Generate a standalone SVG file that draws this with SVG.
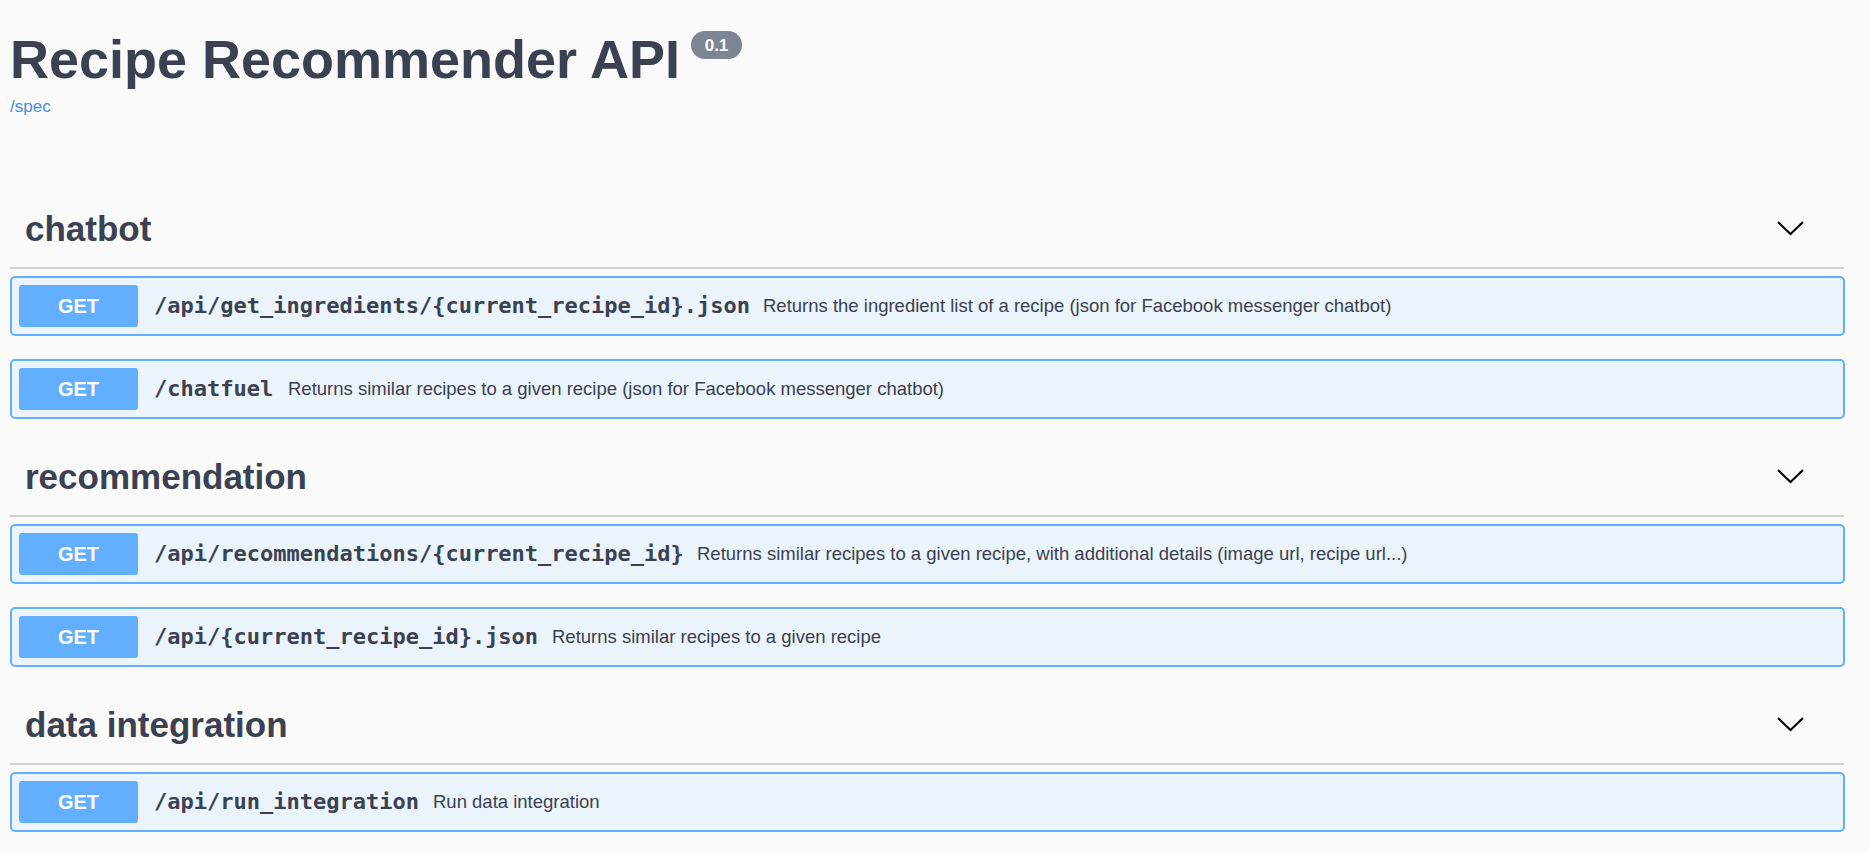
<svg xmlns="http://www.w3.org/2000/svg" width="1869" height="852" viewBox="0 0 1869 852">
<style>
.t{font-family:"Liberation Sans",Arial,sans-serif;fill:#3b4151}
.h{font-family:"Liberation Sans",Arial,sans-serif;font-weight:bold;font-size:35px;fill:#3b4151}
.box{fill:#ebf3fb;stroke:#61affe;stroke-width:2}
.btn{fill:#61affe}
.get{font-family:"Liberation Sans",Arial,sans-serif;font-weight:bold;font-size:20px;fill:#fff}
.p{font-family:"DejaVu Sans Mono","Liberation Mono",monospace;font-weight:bold;font-size:22px;fill:#3b4151}
.d{font-family:"Liberation Sans",Arial,sans-serif;font-size:18.5px;fill:#3b4151}
.sep{stroke:#d0d0d0;stroke-width:2}
.chev{fill:none;stroke:#000;stroke-width:2}
</style>
<rect width="1869" height="852" fill="#fafafa"/>
<g id="header">
<text class="t" x="10" y="78" font-size="54" font-weight="bold" textLength="670" lengthAdjust="spacingAndGlyphs">Recipe Recommender API</text>
<rect x="691" y="31" width="51" height="28" rx="14" fill="#7d8492"/>
<text x="716.5" y="51" text-anchor="middle" font-family="Liberation Sans,Arial,sans-serif" font-weight="bold" font-size="17" fill="#fff">0.1</text>
<text x="10" y="112" font-family="Liberation Sans,Arial,sans-serif" font-size="17" fill="#4990e2">/spec</text>
</g>
<g id="sec-chatbot">
<text class="h" x="25" y="241">chatbot</text>
<path class="chev" d="M1778 222 L1790.5 234 L1803 222"/>
<line class="sep" x1="10" y1="268" x2="1844" y2="268"/>
</g>
<g id="row1">
<rect class="box" x="11" y="277" width="1833" height="58" rx="4"/>
<rect class="btn" x="19" y="285" width="119" height="42" rx="3"/>
<text class="get" x="78.5" y="313" text-anchor="middle">GET</text>
<text class="p" x="154" y="313">/api/get_ingredients/{current_recipe_id}.json</text>
<text class="d" x="763" y="312">Returns the ingredient list of a recipe (json for Facebook messenger chatbot)</text>
</g>
<g id="row2">
<rect class="box" x="11" y="360" width="1833" height="58" rx="4"/>
<rect class="btn" x="19" y="368" width="119" height="42" rx="3"/>
<text class="get" x="78.5" y="396" text-anchor="middle">GET</text>
<text class="p" x="154" y="396">/chatfuel</text>
<text class="d" x="288" y="395">Returns similar recipes to a given recipe (json for Facebook messenger chatbot)</text>
</g>
<g id="sec-recommendation">
<text class="h" x="25" y="489">recommendation</text>
<path class="chev" d="M1778 470 L1790.5 482 L1803 470"/>
<line class="sep" x1="10" y1="516" x2="1844" y2="516"/>
</g>
<g id="row3">
<rect class="box" x="11" y="525" width="1833" height="58" rx="4"/>
<rect class="btn" x="19" y="533" width="119" height="42" rx="3"/>
<text class="get" x="78.5" y="561" text-anchor="middle">GET</text>
<text class="p" x="154" y="561">/api/recommendations/{current_recipe_id}</text>
<text class="d" x="697" y="560">Returns similar recipes to a given recipe, with additional details (image url, recipe url...)</text>
</g>
<g id="row4">
<rect class="box" x="11" y="608" width="1833" height="58" rx="4"/>
<rect class="btn" x="19" y="616" width="119" height="42" rx="3"/>
<text class="get" x="78.5" y="644" text-anchor="middle">GET</text>
<text class="p" x="154" y="644">/api/{current_recipe_id}.json</text>
<text class="d" x="552" y="643">Returns similar recipes to a given recipe</text>
</g>
<g id="sec-data">
<text class="h" x="25" y="737">data integration</text>
<path class="chev" d="M1778 718 L1790.5 730 L1803 718"/>
<line class="sep" x1="10" y1="764" x2="1844" y2="764"/>
</g>
<g id="row5">
<rect class="box" x="11" y="773" width="1833" height="58" rx="4"/>
<rect class="btn" x="19" y="781" width="119" height="42" rx="3"/>
<text class="get" x="78.5" y="809" text-anchor="middle">GET</text>
<text class="p" x="154" y="809">/api/run_integration</text>
<text class="d" x="433" y="808">Run data integration</text>
</g>
<g id="connectors"/>
</svg>
